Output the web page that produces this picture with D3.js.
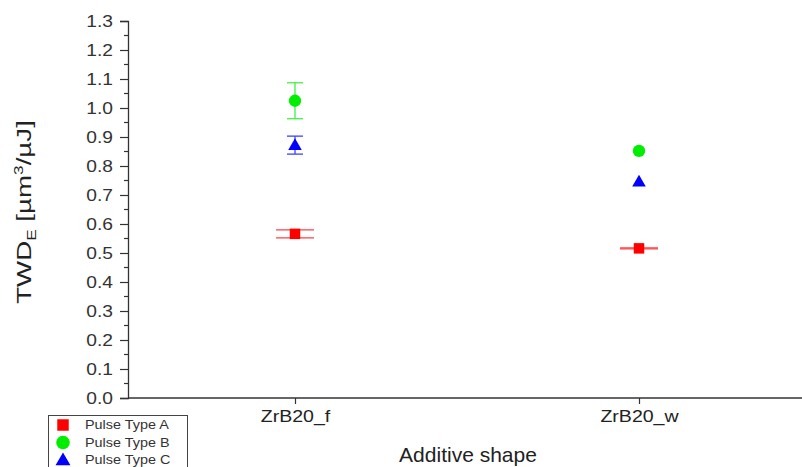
<!DOCTYPE html>
<html>
<head>
<meta charset="utf-8">
<script src="https://cdn.jsdelivr.net/npm/d3@7"></script>
<style>
  body { margin: 0; background: #fff; }
  svg { display: block; font-family: "Liberation Sans", Arial, sans-serif; }
</style>
</head>
<body>
<svg id="chart" width="802" height="467"></svg>
<script>
// data
const categories = ['ZrB20_f', 'ZrB20_w'];
const seriesNames = ['Pulse Type A', 'Pulse Type B', 'Pulse Type C'];
const seriesColors = ['#ff0000', '#00ee00', '#0000ff'];
const seriesShapes = ['square', 'circle', 'triangle'];
const valuesA = [0.566, 0.516];
const errorsA = [0.014, 0.002];
const valuesB = [1.025, 0.852];
const errorsB = [0.062, 0.0];
const valuesC = [0.872, 0.746];
const errorsC = [0.031, 0.0];
const yTicks = [0, 0.1, 0.2, 0.3, 0.4, 0.5, 0.6, 0.7, 0.8, 0.9, 1.0, 1.1, 1.2, 1.3];

const series = [
    { name: seriesNames[0], values: valuesA, errors: errorsA, color: seriesColors[0], shape: seriesShapes[0], cap: 19 },
    { name: seriesNames[1], values: valuesB, errors: errorsB, color: seriesColors[1], shape: seriesShapes[1], cap: 8 },
    { name: seriesNames[2], values: valuesC, errors: errorsC, color: seriesColors[2], shape: seriesShapes[2], cap: 8 }
];

const svg = d3.select('#chart');
const margin = { left: 128, top: 21, bottom: 69 };
const height = 467 - margin.top - margin.bottom;

const x = d3.scalePoint()
    .domain(categories)
    .range([123, 811])
    .padding(0.5);

const y = d3.scaleLinear()
    .domain([0, 1.3])
    .range([margin.top + height, margin.top]);

// y axis
const yAxis = d3.axisLeft(y)
    .tickValues(yTicks)
    .tickFormat(d3.format('.1f'))
    .tickSize(8)
    .tickPadding(5);
const gy = svg.append('g')
    .attr('transform', `translate(${margin.left},0)`)
    .call(yAxis);
gy.select('.domain').attr('stroke', '#333').attr('stroke-width', 1.3);
gy.selectAll('.tick line').attr('stroke', '#333').attr('stroke-width', 1.2);
gy.selectAll('.tick text')
    .attr('fill', '#333')
    .style('font-size', '16px')
    .attr('x', 0)
    .attr('transform', 'translate(-15,0) scale(1.2,1)');

// minor ticks
const minor = d3.range(0.05, 1.3, 0.1);
svg.append('g').selectAll('line')
    .data(minor)
    .enter().append('line')
    .attr('x1', margin.left - 4)
    .attr('x2', margin.left)
    .attr('y1', d => y(d))
    .attr('y2', d => y(d))
    .attr('stroke', '#333')
    .attr('stroke-width', 1.2);

// x axis
const xAxis = d3.axisBottom(x).tickSize(6).tickPadding(6);
const gx = svg.append('g')
    .attr('transform', `translate(0,${y(0)})`)
    .call(xAxis);
gx.select('.domain').attr('stroke', '#333').attr('stroke-width', 1.3)
    .attr('d', `M${margin.left},0H810`);
gx.selectAll('.tick line').attr('stroke', '#333').attr('stroke-width', 1.2);
gx.selectAll('.tick text')
    .attr('fill', '#222')
    .style('font-size', '17px')
    .attr('transform', 'scale(1.15,1)');

// axis titles
const yTitle = svg.append('text')
    .attr('transform', 'translate(31,212) rotate(-90) scale(1.32,1)')
    .attr('text-anchor', 'middle')
    .attr('fill', '#222')
    .style('font-size', '21px');
yTitle.append('tspan').text('TWD');
yTitle.append('tspan').attr('dy', 5).style('font-size', '13px').text('E');
yTitle.append('tspan').attr('dy', -5).text(' [\u00b5m');
yTitle.append('tspan').attr('dy', -8).style('font-size', '13px').text('3');
yTitle.append('tspan').attr('dy', 8).text('/\u00b5J]');

svg.append('text')
    .attr('x', 468)
    .attr('y', 462)
    .attr('text-anchor', 'middle')
    .attr('fill', '#222')
    .style('font-size', '21px')
    .text('Additive shape');

// error bars
const gErr = svg.append('g');
series.forEach(s => {
    categories.forEach((c, i) => {
        const cx = x(c);
        const v = s.values[i], e = s.errors[i];
        if (e <= 0) return;
        const g = gErr.append('g')
            .attr('stroke', s.color)
            .attr('stroke-width', 1.3)
            .attr('opacity', 0.75);
        g.append('line').attr('x1', cx).attr('x2', cx).attr('y1', y(v + e)).attr('y2', y(v - e));
        [v + e, v - e].forEach(t => {
            g.append('line')
                .attr('x1', cx - s.cap).attr('x2', cx + s.cap)
                .attr('y1', y(t)).attr('y2', y(t));
        });
    });
});

// markers
const symbolType = { square: d3.symbolSquare, circle: d3.symbolCircle, triangle: d3.symbolTriangle };
const symbolSize = { square: 110, circle: 120, triangle: 80 };
series.forEach(s => {
    svg.append('g').selectAll('path')
        .data(s.values)
        .enter().append('path')
        .attr('d', d3.symbol().type(symbolType[s.shape]).size(symbolSize[s.shape]))
        .attr('transform', (d, i) => `translate(${x(categories[i])},${y(d) + (s.shape === 'triangle' ? 1 : 0)})`)
        .attr('fill', s.color);
});

// legend
const legend = svg.append('g').attr('transform', 'translate(48,415)');
legend.append('rect')
    .attr('x', 0.5).attr('y', 0.5)
    .attr('width', 139).attr('height', 60)
    .attr('fill', '#fff')
    .attr('stroke', '#444')
    .attr('stroke-width', 1);
series.forEach((s, i) => {
    const row = legend.append('g').attr('transform', `translate(0,${10 + i * 17.5})`);
    row.append('path')
        .attr('d', d3.symbol().type(symbolType[s.shape]).size(symbolSize[s.shape] * 1.2))
        .attr('transform', `translate(15,${s.shape === 'triangle' ? 1 : 0})`)
        .attr('fill', s.color);
    row.append('text')
        .attr('x', 0)
        .attr('y', 4)
        .attr('transform', 'translate(37,0) scale(1.2,1)')
        .attr('fill', '#333')
        .style('font-size', '12px')
        .text(s.name);
});
</script>
</body>
</html>
